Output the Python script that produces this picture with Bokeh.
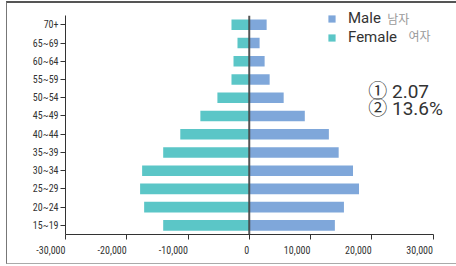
from bokeh.plotting import figure
from bokeh.models import Range1d, Label, Legend, LegendItem, FixedTicker
from bokeh.embed import file_html
from bokeh.resources import INLINE

ages = ["15~19", "20~24", "25~29", "30~34", "35~39", "40~44",
        "45~49", "50~54", "55~59", "60~64", "65~69", "70+"]
male = [13980, 15460, 17920, 16940, 14600, 13000, 9070, 5620, 3330, 2510, 1690, 2840]
female = [14050, 17160, 17820, 17490, 14050, 11260, 7980, 5200, 2900, 2570, 1920, 2900]
x_ticks = [-30000, -20000, -10000, 0, 10000, 20000, 30000]
x_tick_labels = ["-30,000", "-20,000", "-10,000", "0", "10,000", "20,000", "30,000"]
series_en = ["Male", "Female"]
series_ko = ["남자", "여자"]
notes = ["① 2.07", "② 13.6%"]

BLUE = "#7FA7DA"
TEAL = "#5BC6C7"
AXIS = "#333333"
TICK_FONT = "'Liberation Sans Narrow', 'Roboto Condensed', Roboto"

ypos = list(range(len(ages)))
n = len(ages)

p = figure(width=449, height=260, output_backend="svg", toolbar_location=None,
           x_range=Range1d(-30000, 34000), y_range=Range1d(-0.5, n - 0.5 + 12 / 18),
           min_border_left=58, min_border_right=0, min_border_top=0, min_border_bottom=32,
           styles={"box-sizing": "content-box", "margin-left": "6px", "margin-top": "1px",
                   "border-top": "2px solid #555555", "border-left": "1px solid #777777",
                   "border-bottom": "1px solid #aaaaaa"})
p.outline_line_color = None
p.grid.visible = False

neg_female = [-v for v in female]
r_m = p.hbar(y=ypos, left=0, right=male, height=0.58, fill_color=BLUE, line_color=None)
r_f = p.hbar(y=ypos, left=neg_female, right=0, height=0.58, fill_color=TEAL, line_color=None)

# zero line over the bars
p.segment(x0=[0], y0=[-0.5], x1=[0], y1=[n - 0.5], line_color="#444444", line_width=2, line_alpha=0.9)

# axes
p.yaxis.ticker = FixedTicker(ticks=ypos)
p.yaxis.major_label_overrides = dict(zip(ypos, ages))
p.yaxis.bounds = (-0.5, n - 0.5)
p.yaxis.axis_line_color = AXIS
p.yaxis.major_tick_line_color = AXIS
p.yaxis.minor_tick_line_color = None
p.yaxis.major_tick_out = 5
p.yaxis.major_tick_in = 0
p.yaxis.major_label_standoff = 2
p.yaxis.major_label_text_font = TICK_FONT
p.yaxis.major_label_text_font_size = "10px"
p.yaxis.major_label_text_color = "#333333"

p.xaxis.ticker = FixedTicker(ticks=x_ticks)
p.xaxis.major_label_overrides = dict(zip(x_ticks, x_tick_labels))
p.xaxis.bounds = (x_ticks[0], x_ticks[-1])
p.xaxis.axis_line_color = AXIS
p.xaxis.major_tick_line_color = AXIS
p.xaxis.major_tick_out = 5
p.xaxis.major_tick_in = 0
p.xaxis.minor_tick_line_color = None
p.xaxis.major_label_orientation = 1e-6  # tiny angle -> labels right-aligned to ticks
p.xaxis.major_label_standoff = 10
p.xaxis.major_label_text_font = TICK_FONT
p.xaxis.major_label_text_font_size = "10px"
p.xaxis.major_label_text_color = "#333333"

# legend
legend = Legend(items=[LegendItem(label=series_en[0], renderers=[r_m]),
                       LegendItem(label=series_en[1], renderers=[r_f])],
                location=(262, 188), orientation="vertical",
                glyph_width=9, glyph_height=9, label_height=16, spacing=1,
                label_standoff=12, padding=0, margin=0,
                border_line_color=None, background_fill_alpha=0,
                label_text_font="Roboto", label_text_font_size="15px",
                label_text_color="#333333")
p.add_layout(legend, "center")

ko_x = [22540, 25980]
ko_y = [11.33, 10.39]
for t, xx, yy in zip(series_ko, ko_x, ko_y):
    p.add_layout(Label(x=xx, y=yy, text=t, text_baseline="middle",
                       text_font="'Noto Sans CJK KR'", text_font_size="12px",
                       text_color="#999999"))

note_y = [7.33, 6.39]
for t, yy in zip(notes, note_y):
    p.add_layout(Label(x=19430, y=yy, text=t, text_baseline="middle",
                       text_font="Roboto, 'Noto Sans CJK KR'", text_font_size="19px",
                       text_color="#333333"))

open("out.html", "w").write(file_html(p, INLINE))
